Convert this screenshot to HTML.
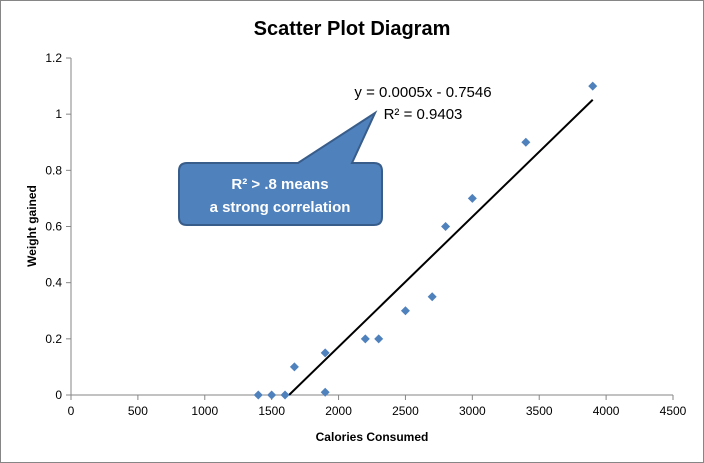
<!DOCTYPE html>
<html><head><meta charset="utf-8"><style>
html,body{margin:0;padding:0;background:#fff}
svg{display:block;font-family:"Liberation Sans",Calibri,sans-serif}
</style></head><body>
<svg id="chart" width="704" height="463">
<rect x="0.5" y="0.5" width="703" height="462" fill="#fff" stroke="#868686"/>
<text x="352" y="35" text-anchor="middle" font-size="20" font-weight="bold">Scatter Plot Diagram</text>
<text x="372" y="441" text-anchor="middle" font-size="12" font-weight="bold">Calories Consumed</text>
<text transform="translate(36,226) rotate(-90)" text-anchor="middle" font-size="12" font-weight="bold">Weight gained</text>
<g id="axes"></g>
<g id="marks"></g>
<text x="423" y="97" text-anchor="middle" font-size="15">y = 0.0005x - 0.7546</text>
<text x="423" y="119" text-anchor="middle" font-size="15">R² = 0.9403</text>
<g>
<path d="M187,163 L298,163 L375,113 L352,163 L374,163 Q382,163 382,171 L382,217 Q382,225 374,225 L187,225 Q179,225 179,217 L179,171 Q179,163 187,163 Z" fill="#4f81bd" stroke="#385d8a" stroke-width="2"/>
<text x="280" y="189" text-anchor="middle" font-size="15" font-weight="bold" fill="#fff">R² &gt; .8 means</text>
<text x="280" y="212" text-anchor="middle" font-size="15" font-weight="bold" fill="#fff">a strong correlation</text>
</g>
</svg>
<script>
const xValues=[1400,1500,1600,1670,1900,1900,2200,2300,2500,2700,2800,3000,3400,3900];
const yValues=[0,0,0,0.1,0.15,0.01,0.2,0.2,0.3,0.35,0.6,0.7,0.9,1.1];
const xTicks=[0,500,1000,1500,2000,2500,3000,3500,4000,4500];
const yTicks=[0,0.2,0.4,0.6,0.8,1,1.2];
const NS="http://www.w3.org/2000/svg";
const X0=71,X1=673,Y0=395,Y1=58;
const sx=v=>X0+v/4500*(X1-X0);
const sy=v=>Y0-v/1.2*(Y0-Y1);
function mk(t,a,p){const e=document.createElementNS(NS,t);for(const k in a)e.setAttribute(k,a[k]);p.appendChild(e);return e;}
const axes=document.getElementById('axes'),marks=document.getElementById('marks');
const xa=mk('line',{x1:X0,y1:Y0,x2:X1,y2:Y0,stroke:'#868686'},axes);


const ya=mk('line',{x1:X0,y1:Y0,x2:X0,y2:Y1,stroke:'#868686'},axes);


xTicks.forEach(v=>{
 mk('line',{x1:sx(v),y1:Y0,x2:sx(v),y2:Y0+5,stroke:'#868686'},axes);
 const t=mk('text',{x:sx(v),y:Y0+20,'text-anchor':'middle','font-size':12},axes);t.textContent=v;
 
 
});
yTicks.forEach(v=>{
 mk('line',{x1:X0-5,y1:sy(v),x2:X0,y2:sy(v),stroke:'#868686'},axes);
 const t=mk('text',{x:X0-9,y:sy(v)+4,'text-anchor':'end','font-size':12},axes);t.textContent=v;
 
 
});
const n=xValues.length;let mx=0,my=0;xValues.forEach((x,i)=>{mx+=x;my+=yValues[i];});mx/=n;my/=n;
let sxy=0,sxx=0;xValues.forEach((x,i)=>{sxy+=(x-mx)*(yValues[i]-my);sxx+=(x-mx)*(x-mx);});
const m=sxy/sxx,b=my-m*mx;
let xs=Math.max(Math.min(...xValues),-b/m),xe=Math.max(...xValues);
const tl=mk('line',{x1:sx(xs),y1:sy(m*xs+b),x2:sx(xe),y2:sy(m*xe+b),stroke:'#000','stroke-width':2},marks);


xValues.forEach((x,i)=>{
 const cx=sx(x),cy=sy(yValues[i]);
 const p=mk('path',{d:`M${cx},${cy-4.5}L${cx+4.5},${cy}L${cx},${cy+4.5}L${cx-4.5},${cy}Z`,fill:'#4f81bd'},marks);
 
 
});
</script>
</body></html>
